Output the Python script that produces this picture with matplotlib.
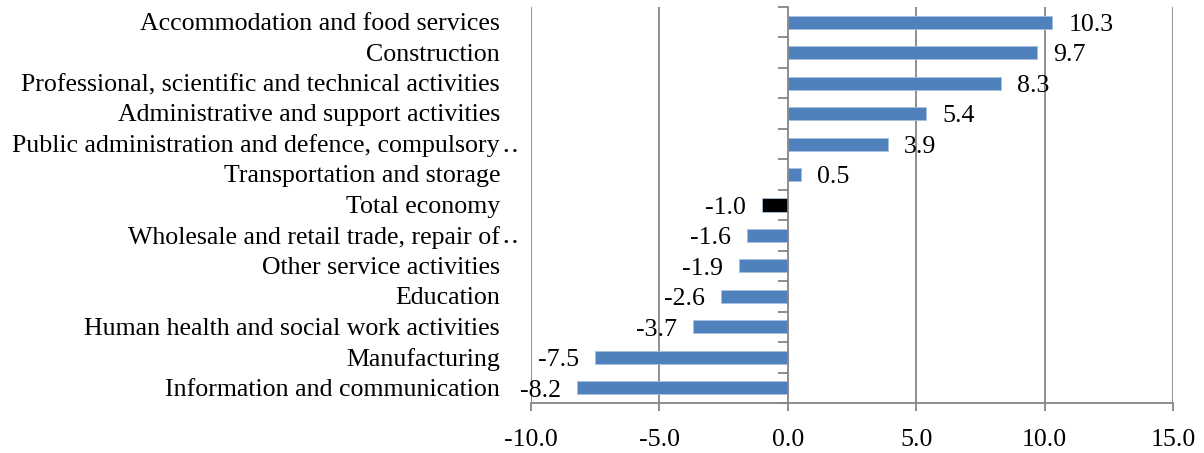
import numpy as np
import matplotlib.pyplot as plt
from matplotlib.transforms import blended_transform_factory

# dati (dal basso verso l'alto)
sectors = ['Information and communication', 'Manufacturing',
           'Human health and social work activities', 'Education',
           'Other service activities', 'Wholesale and retail trade, repair of\u2025',
           'Total economy', 'Transportation and storage',
           'Public administration and defence, compulsory\u2025',
           'Administrative and support activities',
           'Professional, scientific and technical activities',
           'Construction', 'Accommodation and food services']
values = [-8.2, -7.5, -3.7, -2.6, -1.9, -1.6, -1.0, 0.5, 3.9, 5.4, 8.3, 9.7, 10.3]
xticks = [-10, -5, 0, 5, 10, 15]

plt.rcParams['font.family'] = ['Liberation Serif', 'DejaVu Serif']
fs = 18.6

fig = plt.figure(figsize=(12.04, 4.53), dpi=100)
ax = fig.add_axes([531/1204, 1 - 403/453, (1173 - 531)/1204, (403 - 7)/453])

y = np.arange(len(values))
colors = ['black' if s == 'Total economy' else '#4F81BD' for s in sectors]
ax.barh(y, values, height=0.43, color=colors, edgecolor='#A7C0DE', linewidth=0.6, zorder=3)

ax.set_xlim(-10, 15)
ax.set_ylim(-0.5, len(values) - 0.5)
ax.set_xticks(xticks)
ax.set_xticklabels(['%.1f' % t for t in xticks], fontsize=fs)
ax.tick_params(axis='x', length=6, width=1.3, color='#868686', pad=13)

# griglia verticale
for t in xticks:
    if t != 0:
        ax.axvline(t, color='#868686', lw=1.3, zorder=1)

# asse y su 0
ax.spines['left'].set_position(('data', 0))
ax.spines['left'].set_color('#868686')
ax.spines['left'].set_linewidth(1.3)
ax.spines['left'].set_zorder(4)
ax.spines['bottom'].set_color('#868686')
ax.spines['bottom'].set_linewidth(1.3)
ax.spines['top'].set_visible(False)
ax.spines['right'].set_visible(False)
ax.set_yticks(np.arange(-0.5, len(values)))
ax.set_yticklabels([])
ax.tick_params(axis='y', length=7, width=1.3, color='#868686')

# etichette categorie (i puntini di troncamento sporgono a destra)
tr = blended_transform_factory(ax.transAxes, ax.transData)
for yi, s in zip(y, sectors):
    base = s.rstrip('\u2025')
    ax.text(-31/642, yi - 0.06, base, transform=tr, ha='right', va='center', fontsize=fs)
    if base != s:
        ax.text(-30/642, yi - 0.06, '\u2025', transform=tr, ha='left', va='center', fontsize=fs)

# etichette valori
for yi, v in zip(y, values):
    if v >= 0:
        ax.annotate('%.1f' % v, (v, yi), xytext=(11.5, -2), textcoords='offset points',
                    ha='left', va='center', fontsize=fs)
    else:
        ax.annotate('%.1f' % v, (v, yi), xytext=(-11.5, -2), textcoords='offset points',
                    ha='right', va='center', fontsize=fs)

fig.savefig('out.png', dpi=100)
